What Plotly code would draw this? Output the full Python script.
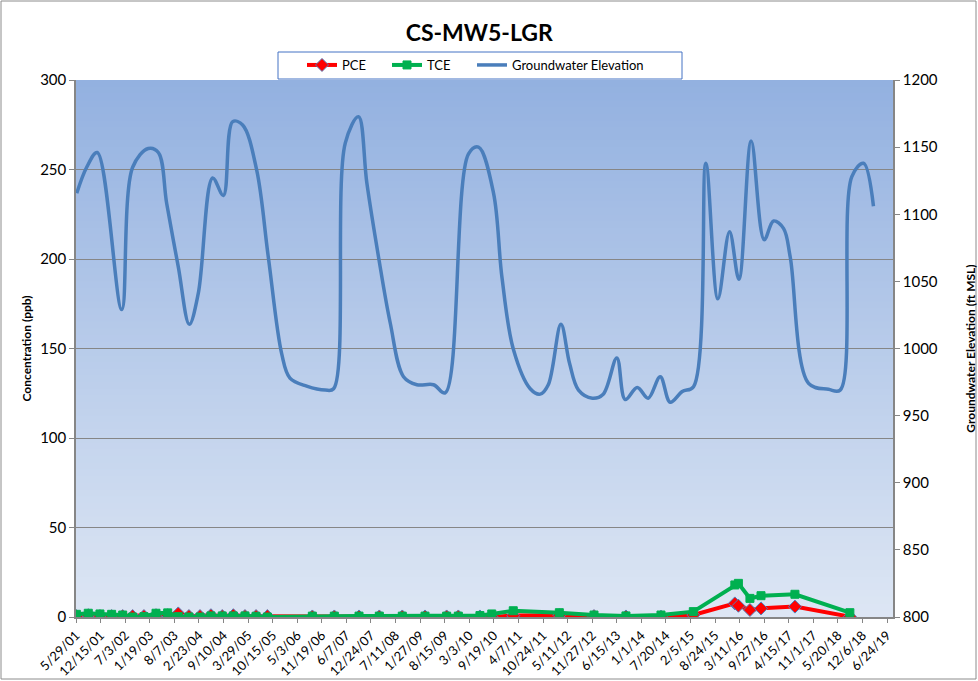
import pandas as pd
import plotly.graph_objects as go

# ---------------- data ----------------
sample_dates = [
    "2001-06-01", "2001-09-06", "2001-12-10", "2002-03-15", "2002-06-13", "2002-09-02",
    "2002-12-03", "2003-03-11", "2003-06-14", "2003-09-08", "2003-12-04", "2004-03-03",
    "2004-05-31", "2004-08-31", "2004-11-29", "2005-03-04", "2005-06-02", "2005-09-02",
    "2006-09-03", "2007-03-01", "2007-09-18", "2008-03-01", "2008-09-04", "2009-03-08",
    "2009-08-31", "2009-12-04", "2010-05-29", "2010-09-02", "2011-02-24", "2012-03-05",
    "2012-12-12", "2013-08-29", "2014-06-10", "2015-02-28", "2016-02-01", "2016-03-01",
    "2016-06-03", "2016-09-01", "2017-06-04", "2018-08-25",
]
pce = [
    0.5, 1.0, 0.5, 0.5, 0.5, 0.5,
    0.5, 1.0, 1.0, 2.0, 0.5, 0.5,
    1.0, 0.5, 1.0, 0.5, 0.5, 0.5,
    0.3, 0.3, 0.3, 0.3, 0.3, 0.3,
    0.3, 0.3, 0.3, 0.0, 0.8, 1.0,
    0.5, 0.3, 0.2, 1.1, 7.6, 6.3,
    3.9, 4.8, 5.8, 0.2,
]
tce = [
    1.5, 2.1, 1.7, 1.5, 1.1, 0.0,
    0.2, 2.1, 2.3, 0.2, 0.0, 0.0,
    0.6, 0.6, 0.6, 0.6, 0.4, 0.0,
    0.5, 0.5, 0.5, 0.5, 0.5, 0.5,
    0.5, 0.5, 0.8, 1.7, 3.5, 2.4,
    1.1, 0.6, 1.1, 3.0, 17.9, 18.8,
    10.4, 11.9, 12.7, 2.4,
]

gw_dates = [
    "2001-06-04", "2001-08-24", "2001-11-18", "2002-06-05", "2002-09-02", "2003-01-07",
    "2003-03-30", "2003-06-06", "2003-09-08", "2003-12-07", "2004-02-18", "2004-06-14",
    "2004-09-09", "2004-11-24", "2005-02-13", "2005-06-07", "2005-09-10", "2005-12-28",
    "2006-03-05", "2006-07-19", "2006-12-17", "2007-02-23", "2007-05-29", "2007-09-14",
    "2007-11-21", "2008-02-24", "2008-05-29", "2008-09-14", "2009-01-01", "2009-05-16",
    "2009-08-19", "2010-02-25", "2010-05-17", "2010-09-16", "2010-11-24", "2011-02-26",
    "2011-07-12", "2011-10-01", "2011-12-06", "2012-03-18", "2012-05-27", "2012-08-08",
    "2012-11-28", "2013-02-25", "2013-06-16", "2013-08-23", "2013-11-29", "2014-02-26",
    "2014-06-04", "2014-08-24", "2014-11-30", "2015-03-02", "2015-06-10", "2015-09-16",
    "2015-12-20", "2016-03-05", "2016-06-13", "2016-09-27", "2016-12-12", "2017-03-03",
    "2017-04-27", "2017-09-23", "2018-03-04", "2018-06-07", "2018-09-10", "2018-12-14",
    "2019-03-05",
]
gw_elev = [
    1115.6, 1135.0, 1146.0, 1029.0, 1135.0, 1149.0,
    1146.0, 1108.0, 1061.0, 1018.0, 1041.0, 1127.0,
    1114.0, 1169.0, 1166.5, 1133.0, 1068.0, 996.0,
    978.0, 972.0, 969.0, 970.0, 1153.0, 1172.7,
    1123.0, 1068.0, 1019.0, 979.0, 973.0, 973.0,
    967.0, 1145.0, 1150.0, 1116.0, 1053.0, 999.0,
    970.0, 966.0, 973.0, 1018.0, 989.0, 969.0,
    963.0, 966.0, 993.0, 962.0, 971.0, 963.0,
    979.0, 960.0, 968.0, 971.6, 1138.0, 1037.0,
    1087.0, 1051.5, 1154.6, 1081.0, 1095.0, 1089.5,
    1068.0, 974.0, 969.6, 969.0, 1128.0, 1138.0,
    1106.0,
]

x_tick_labels = [
    "5/29/01", "12/15/01", "7/3/02", "1/19/03", "8/7/03", "2/23/04", "9/10/04", "3/29/05",
    "10/15/05", "5/3/06", "11/19/06", "6/7/07", "12/24/07", "7/11/08", "1/27/09", "8/15/09",
    "3/3/10", "9/19/10", "4/7/11", "10/24/11", "5/11/12", "11/27/12", "6/15/13", "1/1/14",
    "7/20/14", "2/5/15", "8/24/15", "3/11/16", "9/27/16", "4/15/17", "11/1/17", "5/20/18",
    "12/6/18", "6/24/19",
]
x_tick_vals = pd.to_datetime(x_tick_labels, format="%m/%d/%y")

FONT = "Lato, 'Open Sans', sans-serif"

# plot-area geometry (pixels) used for layout placement
L, R, T, B = 76, 85, 80, 64
PW, PH = 978 - L - R, 681 - T - B

fig = go.Figure()

fig.add_trace(go.Scatter(
    x=sample_dates, y=pce, name="PCE", mode="lines+markers",
    line=dict(color="#FF0000", width=4),
    marker=dict(symbol="diamond", size=10, color="#FF0000",
                line=dict(color="#4F81BD", width=1)),
))
fig.add_trace(go.Scatter(
    x=sample_dates, y=tce, name="TCE", mode="lines+markers",
    line=dict(color="#00B050", width=4),
    marker=dict(symbol="square", size=8, color="#00B050",
                line=dict(color="#00B050", width=1)),
))
fig.add_trace(go.Scatter(
    x=gw_dates, y=gw_elev, name="Groundwater Elevation", mode="lines",
    line=dict(color="#4A7EBB", width=3.5, shape="spline", smoothing=1.0),
    yaxis="y2",
))
# empty legend spacer so the long legend label is not clipped
for _ in range(2):
    fig.add_trace(go.Scatter(
        x=[None], y=[None], name=" ", mode="lines",
        line=dict(color="rgba(0,0,0,0)", width=0), hoverinfo="skip",
    ))

# gradient background for the plot area
shapes = []
n = 80
top = (147, 177, 224)
bot = (221, 230, 244)
for i in range(n):
    t = i / (n - 1)
    c = tuple(round(top[k] + (bot[k] - top[k]) * t) for k in range(3))
    shapes.append(dict(
        type="rect", xref="x domain", yref="y domain",
        x0=0, x1=1, y0=max(0, 1 - (i + 1) / n - 0.004), y1=1 - i / n,
        fillcolor="rgb(%d,%d,%d)" % c, line=dict(width=0), layer="below",
    ))
# outer chart border
shapes.append(dict(
    type="rect", xref="paper", yref="paper",
    x0=(1 - L) / PW, x1=(976 - L) / PW,
    y0=(681 - B - 679) / PH, y1=(681 - B - 1) / PH,
    line=dict(color="#8C8C8C", width=1), fillcolor="rgba(0,0,0,0)", layer="above",
))
# legend box
shapes.append(dict(
    type="rect", xref="paper", yref="paper",
    x0=(278 - L) / PW, x1=(682 - L) / PW,
    y0=(681 - B - 79) / PH, y1=(681 - B - 52) / PH,
    line=dict(color="#4472C4", width=1), fillcolor="white", layer="above",
))

fig.update_layout(
    width=978, height=681,
    margin=dict(l=L, r=R, t=T, b=B, autoexpand=False),
    paper_bgcolor="white",
    plot_bgcolor="rgba(0,0,0,0)",
    font=dict(family=FONT, size=13, color="#000000"),
    title=dict(text="<b>CS-MW5-LGR</b>", x=0.49, xanchor="center", y=0.951, yanchor="middle",
               font=dict(family=FONT, size=23, color="#000000")),
    showlegend=True,
    legend=dict(
        orientation="h", x=(302 - L) / PW, y=(681 - B - 50) / PH, xanchor="left", yanchor="top",
        bgcolor="rgba(0,0,0,0)", borderwidth=0,
        font=dict(family=FONT, size=13), entrywidth=40, entrywidthmode="pixels",
        traceorder="normal",
    ),
    shapes=shapes,
    xaxis=dict(
        type="date", automargin=False,
        range=[pd.Timestamp("2001-05-29"), pd.Timestamp("2019-08-11")],
        tickvals=x_tick_vals, ticktext=x_tick_labels, tickangle=-45,
        showgrid=False, showline=True, linecolor="#868686", linewidth=1.5,
        ticks="outside", ticklen=4, tickcolor="#868686",
        tickfont=dict(family=FONT, size=13), zeroline=False,
    ),
    yaxis=dict(
        range=[0, 300], dtick=50, tick0=0, automargin=False,
        title=dict(text="<b>Concentration (ppb)</b>", font=dict(family=FONT, size=12), standoff=6),
        showgrid=True, gridcolor="#868686", gridwidth=1.2,
        showline=True, linecolor="#868686", linewidth=1.5,
        ticks="outside", ticklen=5, tickcolor="#868686",
        tickfont=dict(family=FONT, size=15), zeroline=False,
    ),
    yaxis2=dict(
        range=[800, 1200], dtick=50, tick0=800, automargin=False,
        overlaying="y", side="right",
        title=dict(text="<b>Groundwater Elevation (ft MSL)</b>", font=dict(family=FONT, size=12), standoff=30),
        showgrid=False, showline=True, linecolor="#868686", linewidth=1.5,
        ticks="outside", ticklen=5, tickcolor="#868686",
        tickfont=dict(family=FONT, size=15), zeroline=False,
    ),
)

fig.write_html(
    "out.html",
    config={"displayModeBar": False},
    post_script="document.body.style.margin='0';document.body.style.overflow='hidden';",
)
